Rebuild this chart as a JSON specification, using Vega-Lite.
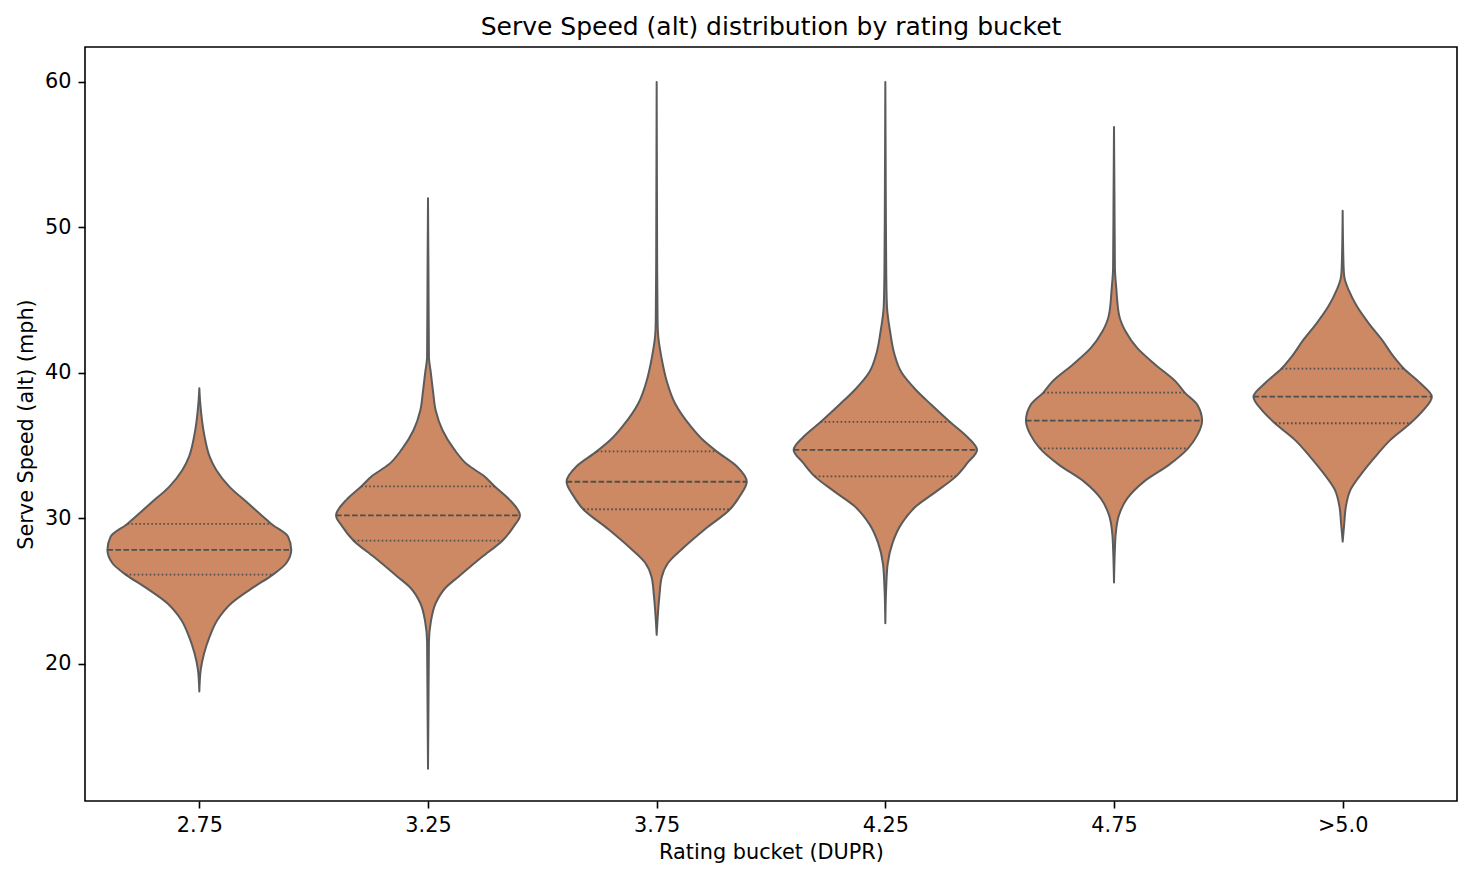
{
  "$schema": "https://vega.github.io/schema/vega-lite/v6.json",
  "width": 1372,
  "height": 754,
  "autosize": {"type": "none"},
  "padding": {"left": 85, "top": 47, "right": 27, "bottom": 80},
  "background": "white",
  "title": {
    "text": "Serve Speed (alt) distribution by rating bucket",
    "font": "DejaVu Sans",
    "fontSize": 25,
    "fontWeight": "normal",
    "color": "black",
    "anchor": "middle",
    "offset": 7
  },
  "config": {
    "view": {"stroke": "black", "strokeWidth": 1.6},
    "font": "DejaVu Sans",
    "axis": {
      "grid": false,
      "domain": false,
      "tickSize": 7,
      "tickWidth": 1.6,
      "tickColor": "black",
      "labelFont": "DejaVu Sans",
      "labelFontSize": 20.8,
      "labelColor": "black",
      "labelPadding": 7,
      "titleFont": "DejaVu Sans",
      "titleFontSize": 20.8,
      "titleFontWeight": "normal",
      "titleColor": "black",
      "titlePadding": 8
    }
  },
  "datasets": {
    "outline": [
      {"bucket": "2.75", "idx": 0, "speed": 38.95, "w": 0.0},
      {"bucket": "2.75", "idx": 0, "speed": 37.92, "w": 0.004},
      {"bucket": "2.75", "idx": 0, "speed": 35.62, "w": 0.023},
      {"bucket": "2.75", "idx": 0, "speed": 34.25, "w": 0.045},
      {"bucket": "2.75", "idx": 0, "speed": 33.33, "w": 0.074},
      {"bucket": "2.75", "idx": 0, "speed": 32.19, "w": 0.131},
      {"bucket": "2.75", "idx": 0, "speed": 31.04, "w": 0.213},
      {"bucket": "2.75", "idx": 0, "speed": 30.12, "w": 0.279},
      {"bucket": "2.75", "idx": 0, "speed": 29.62, "w": 0.315},
      {"bucket": "2.75", "idx": 0, "speed": 28.75, "w": 0.388},
      {"bucket": "2.75", "idx": 0, "speed": 27.84, "w": 0.402},
      {"bucket": "2.75", "idx": 0, "speed": 26.92, "w": 0.38},
      {"bucket": "2.75", "idx": 0, "speed": 26.14, "w": 0.322},
      {"bucket": "2.75", "idx": 0, "speed": 25.31, "w": 0.241},
      {"bucket": "2.75", "idx": 0, "speed": 24.17, "w": 0.14},
      {"bucket": "2.75", "idx": 0, "speed": 23.02, "w": 0.079},
      {"bucket": "2.75", "idx": 0, "speed": 21.88, "w": 0.045},
      {"bucket": "2.75", "idx": 0, "speed": 20.73, "w": 0.021},
      {"bucket": "2.75", "idx": 0, "speed": 19.59, "w": 0.006},
      {"bucket": "2.75", "idx": 0, "speed": 18.1, "w": 0.0},

      {"bucket": "3.25", "idx": 1, "speed": 52.0, "w": 0.0},
      {"bucket": "3.25", "idx": 1, "speed": 47.0, "w": 0.002},
      {"bucket": "3.25", "idx": 1, "speed": 41.11, "w": 0.004},
      {"bucket": "3.25", "idx": 1, "speed": 40.05, "w": 0.012},
      {"bucket": "3.25", "idx": 1, "speed": 38.73, "w": 0.022},
      {"bucket": "3.25", "idx": 1, "speed": 37.4, "w": 0.034},
      {"bucket": "3.25", "idx": 1, "speed": 36.08, "w": 0.063},
      {"bucket": "3.25", "idx": 1, "speed": 34.76, "w": 0.114},
      {"bucket": "3.25", "idx": 1, "speed": 33.7, "w": 0.172},
      {"bucket": "3.25", "idx": 1, "speed": 32.91, "w": 0.245},
      {"bucket": "3.25", "idx": 1, "speed": 32.2, "w": 0.292},
      {"bucket": "3.25", "idx": 1, "speed": 31.33, "w": 0.354},
      {"bucket": "3.25", "idx": 1, "speed": 30.21, "w": 0.402},
      {"bucket": "3.25", "idx": 1, "speed": 29.47, "w": 0.376},
      {"bucket": "3.25", "idx": 1, "speed": 28.47, "w": 0.325},
      {"bucket": "3.25", "idx": 1, "speed": 27.36, "w": 0.237},
      {"bucket": "3.25", "idx": 1, "speed": 26.03, "w": 0.136},
      {"bucket": "3.25", "idx": 1, "speed": 25.24, "w": 0.077},
      {"bucket": "3.25", "idx": 1, "speed": 24.19, "w": 0.034},
      {"bucket": "3.25", "idx": 1, "speed": 22.86, "w": 0.012},
      {"bucket": "3.25", "idx": 1, "speed": 21.55, "w": 0.004},
      {"bucket": "3.25", "idx": 1, "speed": 17.0, "w": 0.002},
      {"bucket": "3.25", "idx": 1, "speed": 12.8, "w": 0.0},

      {"bucket": "3.75", "idx": 2, "speed": 60.0, "w": 0.0},
      {"bucket": "3.75", "idx": 2, "speed": 48.0, "w": 0.002},
      {"bucket": "3.75", "idx": 2, "speed": 43.51, "w": 0.004},
      {"bucket": "3.75", "idx": 2, "speed": 42.49, "w": 0.007},
      {"bucket": "3.75", "idx": 2, "speed": 40.97, "w": 0.022},
      {"bucket": "3.75", "idx": 2, "speed": 39.44, "w": 0.044},
      {"bucket": "3.75", "idx": 2, "speed": 37.92, "w": 0.08},
      {"bucket": "3.75", "idx": 2, "speed": 36.39, "w": 0.146},
      {"bucket": "3.75", "idx": 2, "speed": 35.37, "w": 0.204},
      {"bucket": "3.75", "idx": 2, "speed": 34.61, "w": 0.262},
      {"bucket": "3.75", "idx": 2, "speed": 33.59, "w": 0.35},
      {"bucket": "3.75", "idx": 2, "speed": 32.52, "w": 0.394},
      {"bucket": "3.75", "idx": 2, "speed": 31.55, "w": 0.364},
      {"bucket": "3.75", "idx": 2, "speed": 30.63, "w": 0.321},
      {"bucket": "3.75", "idx": 2, "speed": 29.26, "w": 0.211},
      {"bucket": "3.75", "idx": 2, "speed": 27.99, "w": 0.117},
      {"bucket": "3.75", "idx": 2, "speed": 26.97, "w": 0.051},
      {"bucket": "3.75", "idx": 2, "speed": 25.95, "w": 0.022},
      {"bucket": "3.75", "idx": 2, "speed": 24.68, "w": 0.012},
      {"bucket": "3.75", "idx": 2, "speed": 22.0, "w": 0.0},

      {"bucket": "4.25", "idx": 3, "speed": 60.0, "w": 0.0},
      {"bucket": "4.25", "idx": 3, "speed": 52.0, "w": 0.002},
      {"bucket": "4.25", "idx": 3, "speed": 46.83, "w": 0.004},
      {"bucket": "4.25", "idx": 3, "speed": 44.58, "w": 0.007},
      {"bucket": "4.25", "idx": 3, "speed": 42.83, "w": 0.021},
      {"bucket": "4.25", "idx": 3, "speed": 41.33, "w": 0.039},
      {"bucket": "4.25", "idx": 3, "speed": 40.08, "w": 0.069},
      {"bucket": "4.25", "idx": 3, "speed": 38.83, "w": 0.134},
      {"bucket": "4.25", "idx": 3, "speed": 37.83, "w": 0.2},
      {"bucket": "4.25", "idx": 3, "speed": 36.63, "w": 0.283},
      {"bucket": "4.25", "idx": 3, "speed": 35.58, "w": 0.36},
      {"bucket": "4.25", "idx": 3, "speed": 34.71, "w": 0.401},
      {"bucket": "4.25", "idx": 3, "speed": 33.83, "w": 0.36},
      {"bucket": "4.25", "idx": 3, "speed": 32.89, "w": 0.309},
      {"bucket": "4.25", "idx": 3, "speed": 31.84, "w": 0.222},
      {"bucket": "4.25", "idx": 3, "speed": 30.83, "w": 0.134},
      {"bucket": "4.25", "idx": 3, "speed": 29.59, "w": 0.069},
      {"bucket": "4.25", "idx": 3, "speed": 28.34, "w": 0.032},
      {"bucket": "4.25", "idx": 3, "speed": 26.84, "w": 0.01},
      {"bucket": "4.25", "idx": 3, "speed": 25.34, "w": 0.004},
      {"bucket": "4.25", "idx": 3, "speed": 22.8, "w": 0.0},

      {"bucket": "4.75", "idx": 4, "speed": 56.9, "w": 0.0},
      {"bucket": "4.75", "idx": 4, "speed": 52.0, "w": 0.002},
      {"bucket": "4.75", "idx": 4, "speed": 47.19, "w": 0.004},
      {"bucket": "4.75", "idx": 4, "speed": 45.82, "w": 0.01},
      {"bucket": "4.75", "idx": 4, "speed": 43.99, "w": 0.022},
      {"bucket": "4.75", "idx": 4, "speed": 42.84, "w": 0.051},
      {"bucket": "4.75", "idx": 4, "speed": 41.7, "w": 0.102},
      {"bucket": "4.75", "idx": 4, "speed": 40.55, "w": 0.182},
      {"bucket": "4.75", "idx": 4, "speed": 39.4, "w": 0.27},
      {"bucket": "4.75", "idx": 4, "speed": 38.65, "w": 0.309},
      {"bucket": "4.75", "idx": 4, "speed": 37.8, "w": 0.365},
      {"bucket": "4.75", "idx": 4, "speed": 36.72, "w": 0.385},
      {"bucket": "4.75", "idx": 4, "speed": 35.74, "w": 0.365},
      {"bucket": "4.75", "idx": 4, "speed": 34.82, "w": 0.324},
      {"bucket": "4.75", "idx": 4, "speed": 33.68, "w": 0.24},
      {"bucket": "4.75", "idx": 4, "speed": 32.53, "w": 0.131},
      {"bucket": "4.75", "idx": 4, "speed": 31.38, "w": 0.058},
      {"bucket": "4.75", "idx": 4, "speed": 30.24, "w": 0.022},
      {"bucket": "4.75", "idx": 4, "speed": 28.87, "w": 0.007},
      {"bucket": "4.75", "idx": 4, "speed": 27.95, "w": 0.004},
      {"bucket": "4.75", "idx": 4, "speed": 25.6, "w": 0.0},

      {"bucket": ">5.0", "idx": 5, "speed": 51.15, "w": 0.0},
      {"bucket": ">5.0", "idx": 5, "speed": 47.31, "w": 0.004},
      {"bucket": ">5.0", "idx": 5, "speed": 46.62, "w": 0.007},
      {"bucket": ">5.0", "idx": 5, "speed": 45.7, "w": 0.026},
      {"bucket": ">5.0", "idx": 5, "speed": 44.56, "w": 0.063},
      {"bucket": ">5.0", "idx": 5, "speed": 43.41, "w": 0.114},
      {"bucket": ">5.0", "idx": 5, "speed": 42.27, "w": 0.172},
      {"bucket": ">5.0", "idx": 5, "speed": 41.12, "w": 0.223},
      {"bucket": ">5.0", "idx": 5, "speed": 40.3, "w": 0.267},
      {"bucket": ">5.0", "idx": 5, "speed": 39.29, "w": 0.34},
      {"bucket": ">5.0", "idx": 5, "speed": 38.37, "w": 0.39},
      {"bucket": ">5.0", "idx": 5, "speed": 37.46, "w": 0.354},
      {"bucket": ">5.0", "idx": 5, "speed": 36.54, "w": 0.296},
      {"bucket": ">5.0", "idx": 5, "speed": 35.4, "w": 0.209},
      {"bucket": ">5.0", "idx": 5, "speed": 34.25, "w": 0.143},
      {"bucket": ">5.0", "idx": 5, "speed": 33.11, "w": 0.084},
      {"bucket": ">5.0", "idx": 5, "speed": 31.96, "w": 0.034},
      {"bucket": ">5.0", "idx": 5, "speed": 30.81, "w": 0.014},
      {"bucket": ">5.0", "idx": 5, "speed": 29.67, "w": 0.007},
      {"bucket": ">5.0", "idx": 5, "speed": 28.41, "w": 0.0}
    ],
    "quartiles": [
      {"bucket": "2.75", "idx": 0, "stat": "q3", "speed": 29.62, "w": 0.315},
      {"bucket": "2.75", "idx": 0, "stat": "median", "speed": 27.84, "w": 0.402},
      {"bucket": "2.75", "idx": 0, "stat": "q1", "speed": 26.14, "w": 0.322},
      {"bucket": "3.25", "idx": 1, "stat": "q3", "speed": 32.2, "w": 0.292},
      {"bucket": "3.25", "idx": 1, "stat": "median", "speed": 30.21, "w": 0.402},
      {"bucket": "3.25", "idx": 1, "stat": "q1", "speed": 28.47, "w": 0.325},
      {"bucket": "3.75", "idx": 2, "stat": "q3", "speed": 34.61, "w": 0.262},
      {"bucket": "3.75", "idx": 2, "stat": "median", "speed": 32.52, "w": 0.394},
      {"bucket": "3.75", "idx": 2, "stat": "q1", "speed": 30.63, "w": 0.321},
      {"bucket": "4.25", "idx": 3, "stat": "q3", "speed": 36.63, "w": 0.283},
      {"bucket": "4.25", "idx": 3, "stat": "median", "speed": 34.71, "w": 0.401},
      {"bucket": "4.25", "idx": 3, "stat": "q1", "speed": 32.89, "w": 0.309},
      {"bucket": "4.75", "idx": 4, "stat": "q3", "speed": 38.65, "w": 0.309},
      {"bucket": "4.75", "idx": 4, "stat": "median", "speed": 36.72, "w": 0.385},
      {"bucket": "4.75", "idx": 4, "stat": "q1", "speed": 34.82, "w": 0.324},
      {"bucket": ">5.0", "idx": 5, "stat": "q3", "speed": 40.3, "w": 0.267},
      {"bucket": ">5.0", "idx": 5, "stat": "median", "speed": 38.37, "w": 0.39},
      {"bucket": ">5.0", "idx": 5, "stat": "q1", "speed": 36.54, "w": 0.296}
    ]
  },
  "layer": [
    {
      "data": {"name": "outline"},
      "transform": [
        {"calculate": "datum.idx - datum.w", "as": "lo"},
        {"calculate": "datum.idx + datum.w", "as": "hi"}
      ],
      "mark": {
        "type": "area",
        "orient": "horizontal",
        "interpolate": "monotone",
        "fill": "#cc8963",
        "fillOpacity": 1,
        "stroke": "#5b5b5b",
        "strokeWidth": 2,
        "strokeJoin": "round"
      },
      "encoding": {
        "y": {
          "field": "speed",
          "type": "quantitative",
          "scale": {"domain": [10.58, 62.4], "nice": false, "zero": false},
          "axis": {"values": [20, 30, 40, 50, 60], "format": "d", "title": "Serve Speed (alt) (mph)"}
        },
        "x": {
          "field": "lo",
          "type": "quantitative",
          "scale": {"domain": [-0.5, 5.5], "nice": false, "zero": false},
          "axis": {
            "values": [0, 1, 2, 3, 4, 5],
            "labelExpr": "['2.75', '3.25', '3.75', '4.25', '4.75', '>5.0'][datum.value]",
            "title": "Rating bucket (DUPR)"
          }
        },
        "x2": {"field": "hi"},
        "detail": {"field": "bucket", "type": "nominal"}
      }
    },
    {
      "data": {"name": "quartiles"},
      "transform": [
        {"calculate": "datum.idx - datum.w", "as": "lo"},
        {"calculate": "datum.idx + datum.w", "as": "hi"}
      ],
      "mark": {"type": "rule", "color": "#4f4f4f", "strokeWidth": 1.8, "strokeCap": "butt"},
      "encoding": {
        "y": {"field": "speed", "type": "quantitative"},
        "x": {"field": "lo", "type": "quantitative"},
        "x2": {"field": "hi"},
        "strokeDash": {
          "field": "stat",
          "type": "nominal",
          "scale": {"domain": ["median", "q1", "q3"], "range": [[5.6, 2.4], [1.6, 2.4], [1.6, 2.4]]},
          "legend": null
        }
      }
    }
  ]
}
